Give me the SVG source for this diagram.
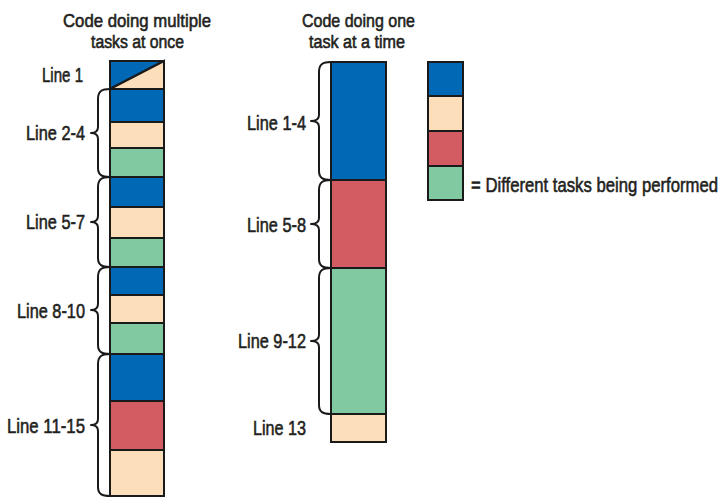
<svg xmlns="http://www.w3.org/2000/svg" width="724" height="498" viewBox="0 0 724 498">
<style>
text{font-family:"Liberation Sans",Arial,sans-serif;font-size:21px;fill:#231f20;stroke:#231f20;stroke-width:0.6}
text.t{font-size:18.5px}
.b{fill:#0068b5}.y{fill:#fddebb}.r{fill:#d35b62}.g{fill:#81c9a1}
rect,polygon{stroke:#1a1a1a;stroke-width:2}
.br{fill:none;stroke:#1a1a1a;stroke-width:2;stroke-linejoin:round;stroke-linecap:round}
</style>
<rect width="724" height="498" fill="#fff" style="stroke:none"/>
<g id="titles">
<text class="t" x="63" y="27" textLength="148" lengthAdjust="spacingAndGlyphs">Code doing multiple</text>
<text class="t" x="91" y="48" textLength="93" lengthAdjust="spacingAndGlyphs">tasks at once</text>
<text class="t" x="302" y="27" textLength="113" lengthAdjust="spacingAndGlyphs">Code doing one</text>
<text class="t" x="309" y="48" textLength="96" lengthAdjust="spacingAndGlyphs">task at a time</text>
</g>
<g id="multi-column">
<polygon class="b" points="110,61 164,61 110,89"/>
<polygon class="y" points="164,61 164,89 110,89"/>
<rect class="b" x="110" y="89" width="54" height="33"/>
<rect class="y" x="110" y="122" width="54" height="26"/>
<rect class="g" x="110" y="148" width="54" height="29"/>
<rect class="b" x="110" y="177" width="54" height="30"/>
<rect class="y" x="110" y="207" width="54" height="31"/>
<rect class="g" x="110" y="238" width="54" height="29"/>
<rect class="b" x="110" y="267" width="54" height="28"/>
<rect class="y" x="110" y="295" width="54" height="28"/>
<rect class="g" x="110" y="323" width="54" height="31"/>
<rect class="b" x="110" y="354" width="54" height="47"/>
<rect class="r" x="110" y="401" width="54" height="49"/>
<rect class="y" x="110" y="450" width="54" height="46"/>
</g>
<g id="multi-labels">
<text x="42" y="82" textLength="41" lengthAdjust="spacingAndGlyphs">Line 1</text>
<text x="26" y="140" textLength="59" lengthAdjust="spacingAndGlyphs">Line 2-4</text>
<text x="26" y="229" textLength="59" lengthAdjust="spacingAndGlyphs">Line 5-7</text>
<text x="17" y="318" textLength="68" lengthAdjust="spacingAndGlyphs">Line 8-10</text>
<text x="7" y="433" textLength="78" lengthAdjust="spacingAndGlyphs">Line 11-15</text>
</g>
<g id="single-column">
<rect class="b" x="331" y="62" width="55" height="118"/>
<rect class="r" x="331" y="180" width="55" height="88"/>
<rect class="g" x="331" y="268" width="55" height="146"/>
<rect class="y" x="331" y="414" width="55" height="28"/>
</g>
<g id="single-labels">
<text x="247" y="130" textLength="59" lengthAdjust="spacingAndGlyphs">Line 1-4</text>
<text x="247" y="232" textLength="59" lengthAdjust="spacingAndGlyphs">Line 5-8</text>
<text x="238" y="348" textLength="68" lengthAdjust="spacingAndGlyphs">Line 9-12</text>
<text x="253" y="435" textLength="53" lengthAdjust="spacingAndGlyphs">Line 13</text>
</g>
<g id="legend">
<rect class="b" x="428" y="62" width="35" height="34"/>
<rect class="y" x="428" y="96" width="35" height="35"/>
<rect class="r" x="428" y="131" width="35" height="35"/>
<rect class="g" x="428" y="166" width="35" height="34"/>
<text transform="translate(471,192) scale(0.795,1)">= Different tasks being performed</text>
</g>
<g id="connectors">
<path class="br" d="M110,89 C102,89 98,91 98,99 L98,127 C98,131 96,133 91,133 C96,133 98,135 98,139 L98,168 C98,175 102,177 110,177"/>
<path class="br" d="M110,177 C102,177 98,179 98,187 L98,216 C98,220 96,222 91,222 C96,222 98,224 98,228 L98,258 C98,265 102,267 110,267"/>
<path class="br" d="M110,267 C102,267 98,269 98,277 L98,304 C98,308 96,310 91,310 C96,310 98,312 98,316 L98,345 C98,352 102,354 110,354"/>
<path class="br" d="M110,354 C102,354 98,356 98,364 L98,419 C98,423 96,425 91,425 C96,425 98,427 98,431 L98,487 C98,494 102,496 110,496"/>
<path class="br" d="M331,62 C323,62 319,64 319,72 L319,115 C319,119 317,121 311,121 C317,121 319,123 319,127 L319,171 C319,178 323,180 331,180"/>
<path class="br" d="M331,180 C323,180 319,182 319,190 L319,218 C319,222 317,224 311,224 C317,224 319,226 319,230 L319,259 C319,266 323,268 331,268"/>
<path class="br" d="M331,268 C323,268 319,270 319,278 L319,335 C319,339 317,341 311,341 C317,341 319,343 319,347 L319,405 C319,412 323,414 331,414"/>
</g>
</svg>
